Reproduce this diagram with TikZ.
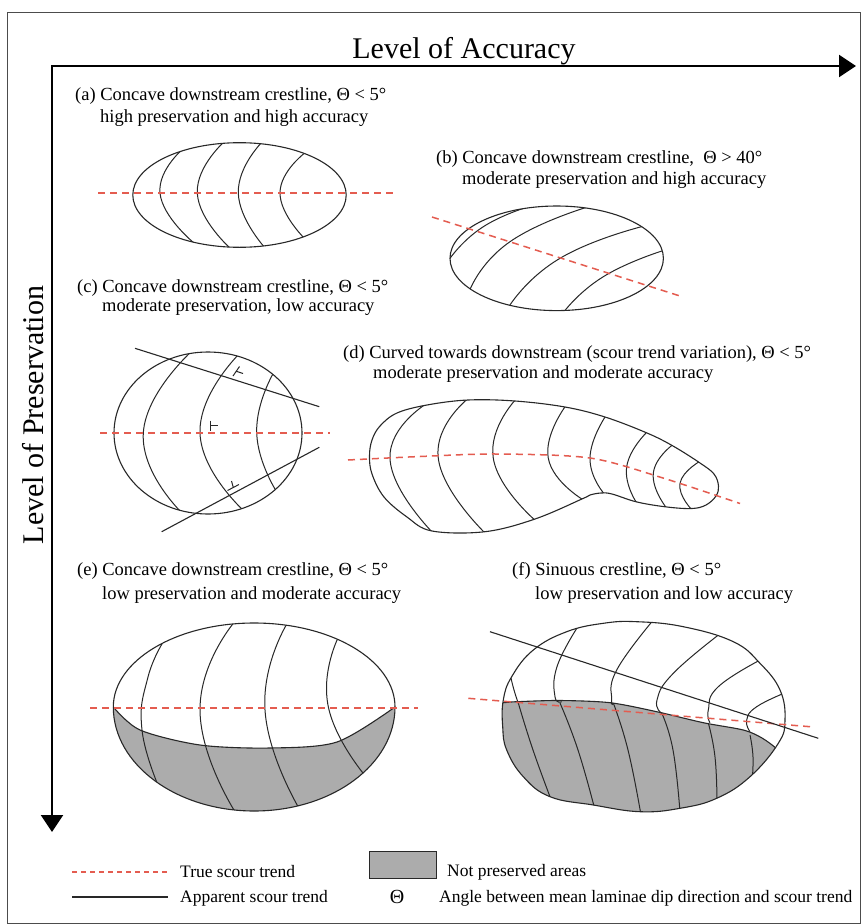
\documentclass[tikz,border=0pt]{standalone}
\usepackage{fontspec}
\setmainfont{Liberation Serif}
\usetikzlibrary{arrows.meta}
\definecolor{trendred}{RGB}{228,92,80}
\definecolor{lostgrey}{RGB}{172,172,172}
\definecolor{ink}{RGB}{40,40,40}
\begin{document}
\begin{tikzpicture}[x=1pt,y=-1pt,
  frame/.style={draw=black!70, line width=0.8pt},
  axisline/.style={line width=2.2pt, {Triangle[length=17pt,width=22pt]}-{Triangle[length=17pt,width=22pt]}},
  rim/.style={draw=ink, line width=1.1pt},
  crest/.style={draw=ink, line width=1pt},
  truetrend/.style={draw=trendred, line width=1.5pt, dash pattern=on 7pt off 5pt},
  apparent/.style={draw=ink, line width=1.1pt},
  caption/.style={anchor=base west, inner sep=0pt, font=\fontsize{18.5}{22}\selectfont},
  axistitle/.style={inner sep=0pt, anchor=base, font=\fontsize{30}{36}\selectfont},
  keytext/.style={anchor=base west, inner sep=0pt, font=\fontsize{17.5}{21}\selectfont},
]
\useasboundingbox (0,0) rectangle (867,924);
\fill[white] (0,0) rectangle (867,924);
\draw[frame] (7.5,12) rectangle (860,923);

% axes
\coordinate (corner) at (52,66);
\coordinate (xend) at (856,66);
\coordinate (yend) at (52,832);
\draw[axisline] (xend) -- (corner) -- (yend);
\node[axistitle] (acc) at (464,58) {Level of Accuracy};
\node[axistitle, rotate=90] (pres) at (43,415) {Level of Preservation};

% ---------- (a)
\node[caption] (cap-a1) at (75,100) {(a) Concave downstream crestline, Θ < 5°};
\node[caption] (cap-a2) at (100,122) {high preservation and high accuracy};
\def\ashape{(239.5,195) ellipse [x radius=106.7pt, y radius=52.3pt]}
\begin{scope}
  \clip \ashape;
  \draw[crest] plot[smooth, tension=0.9] coordinates {(185,147) (160,193) (194,243)};
  \draw[crest] plot[smooth, tension=0.9] coordinates {(226,140) (197.3,193) (231,249)};
  \draw[crest] plot[smooth, tension=0.9] coordinates {(263,141) (238.3,193) (266,249)};
  \draw[crest] plot[smooth, tension=0.9] coordinates {(306,152) (280,193) (306,240)};
\end{scope}
\draw[rim] \ashape;
\coordinate (a-w) at (98,193);
\coordinate (a-e) at (395,193);
\draw[truetrend] (a-w) -- (a-e);

% ---------- (b)
\node[caption] (cap-b1) at (436,163) {(b) Concave downstream crestline,~ Θ > 40°};
\node[caption] (cap-b2) at (462,184) {moderate preservation and high accuracy};
\def\bshape{(556.7,258.3) ellipse [x radius=106.7pt, y radius=52.3pt]}
\begin{scope}
  \clip \bshape;
  \draw[crest] plot[smooth, tension=0.9] coordinates {(446,264) (483.3,226.7) (541,203)};
  \draw[crest] plot[smooth, tension=0.9] coordinates {(469,292) (510,241.7) (594,205)};
  \draw[crest] plot[smooth, tension=0.9] coordinates {(508,308) (560,258.3) (648,225)};
  \draw[crest] plot[smooth, tension=0.9] coordinates {(563,313) (603.3,276.7) (665,250)};
\end{scope}
\draw[rim] \bshape;
\coordinate (b-w) at (432,217);
\coordinate (b-e) at (680,296);
\draw[truetrend] (b-w) -- (b-e);

% ---------- (c)
\node[caption] (cap-c1) at (77,292) {(c) Concave downstream crestline, Θ < 5°};
\node[caption] (cap-c2) at (102,311) {moderate preservation, low accuracy};
\def\cshape{(208,433) ellipse [x radius=94pt, y radius=81pt]}
\begin{scope}
  \clip \cshape;
  \draw[crest] plot[smooth, tension=0.9] coordinates {(193,350) (143.3,433) (183,514)};
  \draw[crest] plot[smooth, tension=0.9] coordinates {(240,353) (200,433) (245,512)};
  \draw[crest] plot[smooth, tension=0.9] coordinates {(274,372) (256.7,433) (278,494)};
\end{scope}
\draw[rim] \cshape;
\coordinate (c-w) at (100,433);
\coordinate (c-e) at (330,433);
\draw[truetrend] (c-w) -- (c-e);
\coordinate (c-u1) at (135,348.3);
\coordinate (c-u2) at (319.3,406.7);
\coordinate (c-l1) at (161.7,531.7);
\coordinate (c-l2) at (319.3,447.3);
\draw[apparent] (c-u1) -- (c-u2);
\draw[apparent] (c-l1) -- (c-l2);
% strike and dip marks
\draw[crest] (210.7,420.5) -- (210.7,431) (210.7,425.7) -- (218.3,425.7);
\draw[crest] (233,376) -- (239.5,366.5) (236.2,371.2) -- (243,373.5);
\draw[crest] (227.5,490.5) -- (239,484.5) (233.3,487.5) -- (231.5,481);

% ---------- (d)
\node[caption] (cap-d1) at (343,358) {(d) Curved towards downstream (scour trend variation), Θ < 5°};
\node[caption] (cap-d2) at (373,378) {moderate preservation and moderate accuracy};
\def\dshape{plot[smooth cycle, tension=0.6] coordinates {(369.5,456) (372,440) (380,426) (397,413) (427,405) (468,400) (515,401) (565,407) (605,417) (647,433) (673,446) (700,463) (714,474) (718.5,486) (716,496) (706,505) (692,508.5) (667,507) (637,502) (612,494) (601,493) (590,495) (583,498.5) (535,519) (485,531.7) (432,531) (407,517) (384,497) (372,474)}}
\begin{scope}
  \clip \dshape;
  \draw[crest] plot[smooth, tension=0.9] coordinates {(429,402) (390,458.3) (434,534)};
  \draw[crest] plot[smooth, tension=0.9] coordinates {(470,397) (438.3,458.3) (487,535)};
  \draw[crest] plot[smooth, tension=0.9] coordinates {(517,398) (493.3,458.3) (537,522)};
  \draw[crest] plot[smooth, tension=0.9] coordinates {(567,404) (548.3,458.3) (585,501)};
  \draw[crest] plot[smooth, tension=0.9] coordinates {(607,414) (590,458.3) (606,496)};
  \draw[crest] plot[smooth, tension=0.9] coordinates {(649,430) (626.7,466.7) (638,505)};
  \draw[crest] plot[smooth, tension=0.9] coordinates {(675,443) (653.3,473.3) (668,510)};
  \draw[crest] plot[smooth, tension=0.9] coordinates {(702,460) (680,483.3) (693,511)};
\end{scope}
\draw[rim] \dshape;
\draw[truetrend] plot[smooth] coordinates {(348,460) (420,456.5) (497,454) (590,458) (663,478) (740,503.5)};

% ---------- (e)
\node[caption] (cap-e1) at (77,575) {(e) Concave downstream crestline, Θ < 5°};
\node[caption] (cap-e2) at (102,599) {low preservation and moderate accuracy};
\def\eshape{(395,707) arc[start angle=0, end angle=180, x radius=140.85pt, y radius=84pt] arc[start angle=180, end angle=360, x radius=140.85pt, y radius=104pt]}
\fill[lostgrey] plot[smooth] coordinates {(113.3,707) (140,730) (200,745) (270,748) (337,742) (395,707)}
  arc[start angle=0, end angle=-180, x radius=140.85pt, y radius=104pt] -- cycle;
\begin{scope}
  \clip \eshape;
  \draw[crest] plot[smooth, tension=0.8] coordinates {(165,639) (148,677) (142,730) (160,790)};
  \draw[crest] plot[smooth, tension=0.9] coordinates {(236,620) (200,710) (237,815)};
  \draw[crest] plot[smooth, tension=0.9] coordinates {(288,622) (265,710) (300,810)};
  \draw[crest] plot[smooth, tension=0.9] coordinates {(338,638) (328.3,706.7) (367,778)};
\end{scope}
\draw[rim] plot[smooth] coordinates {(113.3,707) (140,730) (200,745) (270,748) (337,742) (395,707)};
\draw[rim] \eshape;
\coordinate (e-w) at (90,708);
\coordinate (e-e) at (418,708);
\draw[truetrend] (e-w) -- (e-e);

% ---------- (f)
\node[caption] (cap-f1) at (512,575) {(f) Sinuous crestline, Θ < 5°};
\node[caption] (cap-f2) at (535,599) {low preservation and low accuracy};
\def\fshape{plot[smooth cycle, tension=0.7] coordinates {(503.3,700) (511.7,676.7) (533.3,650) (566.7,631.7) (603.3,623.3) (636.7,621.7) (683.3,626.7) (733.3,641.7) (760,663.3) (780,690) (785,720) (778.3,743.3) (750,776.7) (716.7,798.3) (680,808.3) (640,811.7) (593.3,805) (550,796.7) (523.3,776.7) (506.7,750) (502.7,726.7)}}
\begin{scope}
  \clip \fshape;
  \fill[lostgrey] plot[smooth] coordinates {(490,703) (503.3,702.7) (516.7,701.7) (560,700.5) (610,702.7) (656.7,711.7) (703.3,722.7) (743.3,730) (762,738) (778,750) (790,765)}
    -- (800,830) -- (480,830) -- cycle;
  % crestlines in the preserved part
  \draw[crest] plot[smooth, tension=0.8] coordinates {(510,674) (514,690) (518.3,703.3)};
  \draw[crest] plot[smooth, tension=0.8] coordinates {(577,628) (557,666.7) (555,696.7) (561.7,701.7)};
  \draw[crest] plot[smooth, tension=0.8] coordinates {(655,618) (616.7,670) (611.7,700) (613.3,703.3)};
  \draw[crest] plot[smooth, tension=0.8] coordinates {(721,633) (673.3,673.3) (657,700) (661.7,713.3)};
  \draw[crest] plot[smooth, tension=0.8] coordinates {(762,659) (718.3,686.7) (708.3,710) (710,722.7)};
  \draw[crest] plot[smooth, tension=0.8] coordinates {(787,692) (756.7,706.7) (746.7,720) (750,731.7)};
  % crestlines in the lost part
  \draw[crest] plot[smooth, tension=0.8] coordinates {(518.3,703) (533,750) (552,802)};
  \draw[crest] plot[smooth, tension=0.8] coordinates {(560,703) (578,750) (595,810)};
  \draw[crest] plot[smooth, tension=0.8] coordinates {(613.3,703) (628,750) (641,815)};
  \draw[crest] plot[smooth, tension=0.8] coordinates {(661.7,713) (673,750) (680,812)};
  \draw[crest] plot[smooth, tension=0.8] coordinates {(708.3,723) (715,757) (717,802)};
  \draw[crest] plot[smooth, tension=0.8] coordinates {(750,735) (753,757) (752,782)};
  \draw[rim] plot[smooth] coordinates {(490,703) (503.3,702.7) (516.7,701.7) (560,700.5) (610,702.7) (656.7,711.7) (703.3,722.7) (743.3,730) (762,738) (778,750) (790,765)};
\end{scope}
\draw[rim] \fshape;
\coordinate (f-w) at (468.3,698.3);
\coordinate (f-e) at (810,726.7);
\draw[truetrend] (f-w) -- (f-e);
\coordinate (f-a1) at (490,631.7);
\coordinate (f-a2) at (818.3,738.3);
\draw[apparent] (f-a1) -- (f-a2);

% ---------- key
\coordinate (k-r1) at (72,872);
\coordinate (k-r2) at (168,872);
\draw[truetrend, line width=1.4pt, dash pattern=on 5pt off 4pt] (k-r1) -- (k-r2);
\node[keytext] (k-true) at (180,877) {True scour trend};
\coordinate (k-s1) at (72,897);
\coordinate (k-s2) at (168,897);
\draw[apparent] (k-s1) -- (k-s2);
\node[keytext] (k-app) at (180,902) {Apparent scour trend};
\node[draw=ink, fill=lostgrey, line width=0.8pt, minimum width=67pt, minimum height=27pt, inner sep=0pt] (k-box) at (402.5,864.5) {};
\node[keytext] (k-lost) at (447,876) {Not preserved areas};
\node[inner sep=0pt, anchor=base, font=\fontsize{20}{24}\selectfont] (k-theta) at (397,903) {Θ};
\node[keytext] (k-angle) at (439,902) {Angle between mean laminae dip direction and scour trend};
\end{tikzpicture}
\end{document}
